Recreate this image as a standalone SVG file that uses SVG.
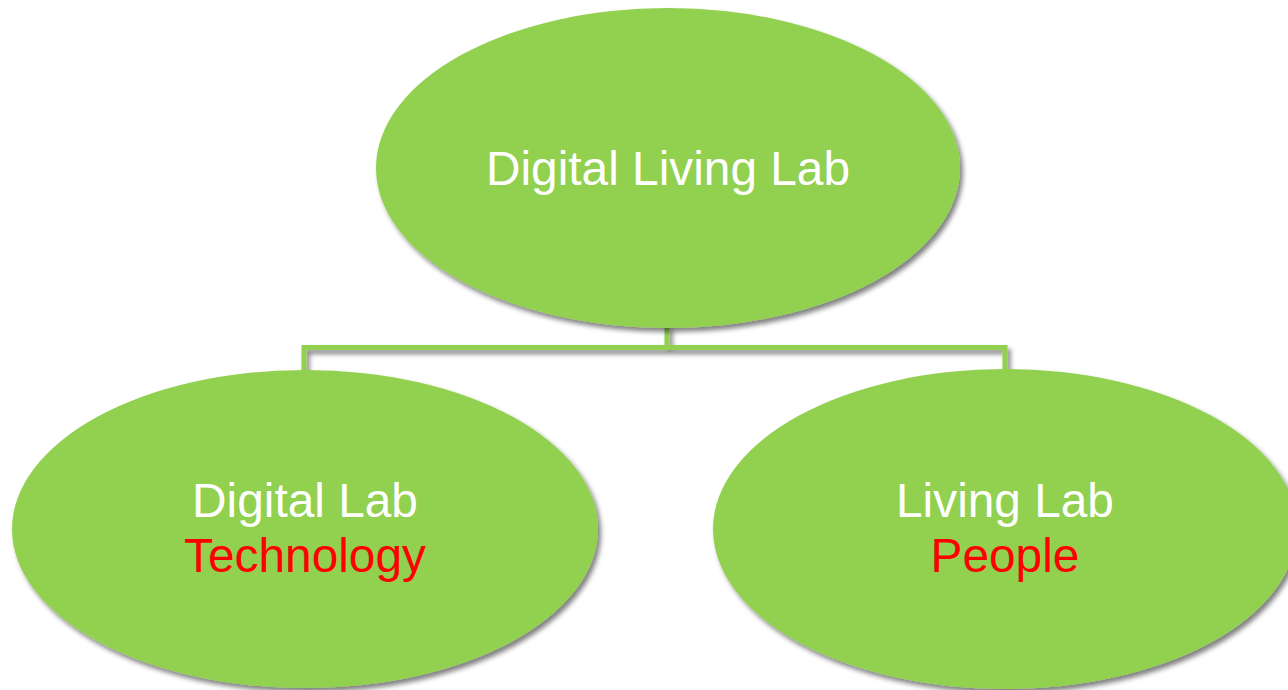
<svg xmlns="http://www.w3.org/2000/svg" width="1288" height="690" viewBox="0 0 1288 690">
<defs>
<filter id="sh" x="-10%" y="-10%" width="125%" height="130%">
<feGaussianBlur in="SourceAlpha" stdDeviation="2.5"/>
<feOffset dx="3" dy="4" result="b"/>
<feComponentTransfer><feFuncA type="linear" slope="0.5"/></feComponentTransfer>
<feMerge><feMergeNode/><feMergeNode in="SourceGraphic"/></feMerge>
</filter>
</defs>
<style>
.node{fill:#92D050;filter:url(#sh)}
.lbl{font-family:"Liberation Sans",Arial,sans-serif;font-size:47.8px;text-anchor:middle;fill:#FFFFFF}
.red{fill:#FF0000}
.conn{fill:none;stroke:#92D050;stroke-width:5;stroke-linejoin:miter;filter:url(#sh)}
</style>
<rect width="1288" height="690" fill="#FFFFFF"/>
<g id="connectors">
<path class="conn" d="M667,326 V347.5 H304 V372 M667,347.5 H1005 V372"/>
</g>
<g id="node-top">
<ellipse class="node" cx="668" cy="168" rx="292" ry="160"/>
<text class="lbl" x="668" y="185">Digital Living Lab</text>
</g>
<g id="node-left">
<ellipse class="node" cx="305" cy="529" rx="293" ry="159"/>
<text class="lbl" x="305" y="517">Digital Lab</text>
<text class="lbl red" x="305" y="572">Technology</text>
</g>
<g id="node-right">
<ellipse class="node" cx="1005" cy="529" rx="292" ry="160"/>
<text class="lbl" x="1005" y="517">Living Lab</text>
<text class="lbl red" x="1005" y="572">People</text>
</g>
</svg>
